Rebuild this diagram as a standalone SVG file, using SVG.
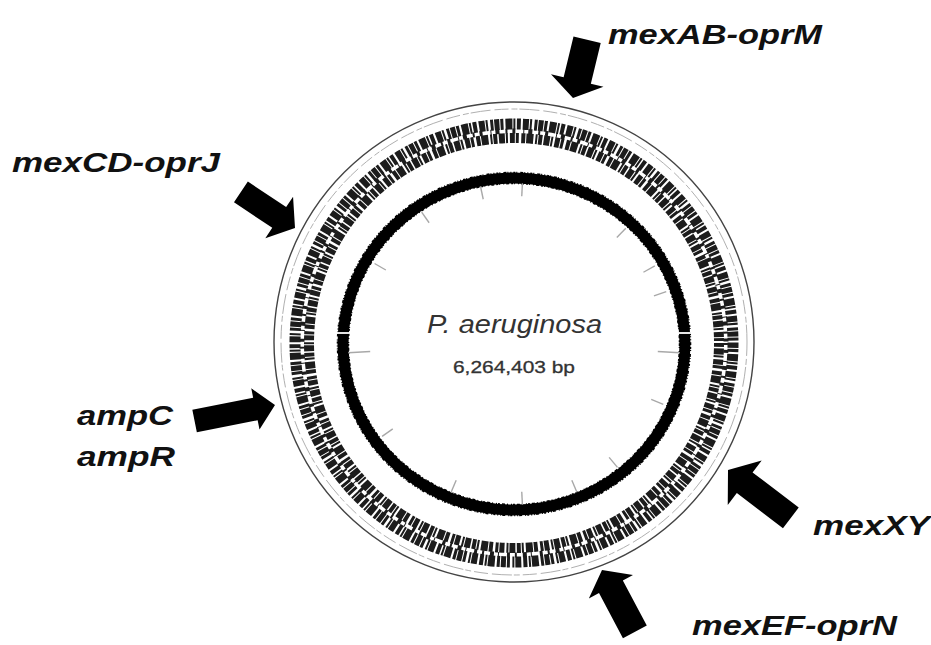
<svg xmlns="http://www.w3.org/2000/svg" width="931" height="645" viewBox="0 0 931 645">
<style>
.lbl{font-family:"Liberation Sans",Arial,sans-serif;font-weight:bold;font-style:italic;font-size:28px;fill:#111}
.arrow{fill:#000}
.tick{stroke:#a8a8a8;stroke-width:1.4}
.gene{fill:none;stroke:#1c1c1c}
</style>
<rect width="931" height="645" fill="#fff"/>
<g id="genome">
  <circle cx="514" cy="342" r="240" fill="none" stroke="#444" stroke-width="1.4"/>
  <circle cx="514" cy="342" r="233" fill="none" stroke="#b0b0b0" stroke-width="1" stroke-dasharray="14 3 6 2 20 4"/>
  <circle class="gene" cx="514" cy="343" r="219" stroke-width="11" stroke-dasharray="5 1 3 2 7 1 2 1.5 4 2 6 1 2 2.5 3 1"/>
  <circle class="gene" cx="514" cy="343" r="205" stroke-width="10" stroke-dasharray="4 1.5 6 1 2 2 5 1 3 2.5 4 1 7 2 2 1"/>
  <circle class="gene" cx="514" cy="343" r="212" stroke-width="5" stroke-dasharray="2 5 3 8 1 4 4 6"/>
  <ellipse cx="514" cy="344" rx="171" ry="166" fill="none" stroke="#000" stroke-width="11"/>
  <ellipse cx="514" cy="344" rx="176.5" ry="171.5" fill="none" stroke="#000" stroke-width="1.6" stroke-dasharray="1 2 2 1 1 3 3 1 1 2"/>
  <ellipse cx="514" cy="344" rx="165.5" ry="160.5" fill="none" stroke="#000" stroke-width="1.5" stroke-dasharray="2 1 1 3 1 2 3 2"/>
  <g id="ticks">
    <line class="tick" x1="514" y1="183" x2="514" y2="196" transform="rotate(-12 514 344)"/>
    <line class="tick" x1="514" y1="183" x2="514" y2="196" transform="rotate(3 514 344)"/>
    <line class="tick" x1="514" y1="183" x2="514" y2="196" transform="rotate(44 514 344)"/>
    <line class="tick" x1="514" y1="183" x2="514" y2="196" transform="rotate(61 514 344)"/>
    <line class="tick" x1="514" y1="183" x2="514" y2="196" transform="rotate(71 514 344)"/>
    <line class="tick" x1="514" y1="178" x2="514" y2="200" transform="rotate(93 514 344)"/>
    <line class="tick" x1="514" y1="183" x2="514" y2="196" transform="rotate(112 514 344)"/>
    <line class="tick" x1="514" y1="183" x2="514" y2="196" transform="rotate(140 514 344)"/>
    <line class="tick" x1="514" y1="183" x2="514" y2="196" transform="rotate(157 514 344)"/>
    <line class="tick" x1="514" y1="183" x2="514" y2="196" transform="rotate(177 514 344)"/>
    <line class="tick" x1="514" y1="183" x2="514" y2="196" transform="rotate(203 514 344)"/>
    <line class="tick" x1="514" y1="183" x2="514" y2="196" transform="rotate(235 514 344)"/>
    <line class="tick" x1="514" y1="178" x2="514" y2="200" transform="rotate(267 514 344)"/>
    <line class="tick" x1="514" y1="183" x2="514" y2="196" transform="rotate(300 514 344)"/>
    <line class="tick" x1="514" y1="183" x2="514" y2="196" transform="rotate(325 514 344)"/>
  </g>
  <line x1="676" y1="333" x2="694" y2="333" stroke="#fff" stroke-width="1.8"/>
  <line x1="334" y1="333" x2="352" y2="333" stroke="#fff" stroke-width="1.8"/>
  <text x="427" y="333" textLength="175" lengthAdjust="spacingAndGlyphs" style="font-family:'Liberation Sans',Arial,sans-serif;font-style:italic;font-size:25px;fill:#333">P. aeruginosa</text>
  <text x="453" y="373" textLength="122" lengthAdjust="spacingAndGlyphs" style="font-family:'Liberation Sans',Arial,sans-serif;font-size:17px;fill:#333;stroke:#333;stroke-width:0.3">6,264,403 bp</text>
</g>
<g id="connectors">
  <polygon class="arrow" points="-60,-14 -18,-14 -18,-27 0,0 -18,27 -18,14 -60,14" transform="translate(573 98) rotate(103.6)"/>
  <polygon class="arrow" points="-65,-12.5 -19,-12.5 -19,-25 0,0 -19,25 -19,12.5 -65,12.5" transform="translate(295 228) rotate(33.7)"/>
  <polygon class="arrow" points="-82,-11.5 -20,-11.5 -20,-21 0,0 -20,21 -20,11.5 -82,11.5" transform="translate(275 405) rotate(-11.3)"/>
  <polygon class="arrow" points="-79,-13 -21,-13 -21,-28 0,0 -21,28 -21,13 -79,13" transform="translate(728 470) rotate(217.3)"/>
  <polygon class="arrow" points="-70,-13.5 -19,-13.5 -19,-25 0,0 -19,25 -19,13.5 -70,13.5" transform="translate(602 570) rotate(242)"/>
</g>
<g id="label-mexAB"><text class="lbl" x="608" y="44" textLength="214" lengthAdjust="spacingAndGlyphs">mexAB-oprM</text></g>
<g id="label-mexCD"><text class="lbl" x="12" y="172" textLength="208" lengthAdjust="spacingAndGlyphs">mexCD-oprJ</text></g>
<g id="label-amp">
  <text class="lbl" x="77" y="425" textLength="96" lengthAdjust="spacingAndGlyphs">ampC</text>
  <text class="lbl" x="77" y="466" textLength="98" lengthAdjust="spacingAndGlyphs">ampR</text>
</g>
<g id="label-mexXY"><text class="lbl" x="813" y="535" textLength="117" lengthAdjust="spacingAndGlyphs">mexXY</text></g>
<g id="label-mexEF"><text class="lbl" x="692" y="635" textLength="205" lengthAdjust="spacingAndGlyphs">mexEF-oprN</text></g>
</svg>
